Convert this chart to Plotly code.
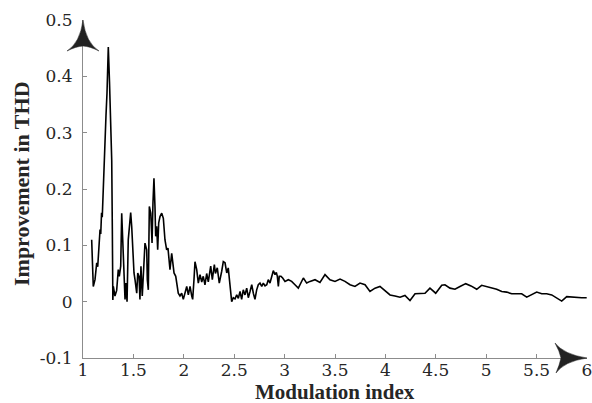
import plotly.graph_objects as go

# Modulation index samples and THD improvement
modulation_index = [
    1.086, 1.102, 1.119, 1.136, 1.146, 1.159, 1.169, 1.176, 1.184, 1.191,
    1.201, 1.211, 1.218, 1.228, 1.238, 1.251, 1.263, 1.273, 1.285, 1.291,
    1.296, 1.301, 1.317, 1.334, 1.350, 1.360, 1.374, 1.384, 1.394, 1.407,
    1.417, 1.427, 1.437, 1.449, 1.459, 1.473, 1.483, 1.493, 1.506, 1.516,
    1.533, 1.543, 1.556, 1.565, 1.575, 1.588, 1.605, 1.615, 1.632, 1.638,
    1.648, 1.658, 1.672, 1.685, 1.694, 1.704, 1.714, 1.721, 1.731, 1.741,
    1.751, 1.764, 1.781, 1.797, 1.813, 1.830, 1.843, 1.853, 1.863, 1.880,
    1.893, 1.903, 1.920, 1.936, 1.945, 1.962, 1.979, 1.995, 2.012, 2.029,
    2.045, 2.062, 2.079, 2.088, 2.101, 2.111, 2.128, 2.144, 2.161, 2.178,
    2.193, 2.210, 2.227, 2.243, 2.267, 2.283, 2.303, 2.314, 2.332, 2.352,
    2.376, 2.392, 2.409, 2.426, 2.441, 2.458, 2.475, 2.491, 2.508, 2.525,
    2.541, 2.558, 2.574, 2.590, 2.607, 2.624, 2.640, 2.657, 2.674, 2.690,
    2.706, 2.723, 2.739, 2.756, 2.773, 2.789, 2.806, 2.823, 2.838, 2.855,
    2.872, 2.888, 2.905, 2.918, 2.928, 2.938, 2.947, 2.964, 2.981, 3.004,
    3.037, 3.070, 3.103, 3.136, 3.186, 3.219, 3.252, 3.302, 3.351, 3.401,
    3.450, 3.500, 3.550, 3.599, 3.649, 3.698, 3.748, 3.798, 3.847, 3.897,
    3.946, 3.996, 4.046, 4.095, 4.145, 4.194, 4.244, 4.294, 4.343, 4.393,
    4.442, 4.499, 4.559, 4.591, 4.641, 4.690, 4.740, 4.797, 4.849, 4.906,
    4.955, 5.005, 5.055, 5.104, 5.154, 5.203, 5.253, 5.303, 5.352, 5.402,
    5.451, 5.501, 5.551, 5.600, 5.650, 5.699, 5.749, 5.799, 5.848, 5.898,
    5.947, 5.997,
]
thd_improvement = [
    0.110, 0.027, 0.039, 0.069, 0.062, 0.100, 0.128, 0.120, 0.158, 0.150,
    0.210, 0.230, 0.270, 0.330, 0.370, 0.452, 0.390, 0.330, 0.250, 0.130,
    0.003, 0.027, 0.010, 0.020, 0.057, 0.045, 0.063, 0.157, 0.110, 0.027,
    0.004, 0.033, 0.000, 0.110, 0.134, 0.158, 0.134, 0.090, 0.051, 0.039,
    0.015, 0.051, 0.045, 0.004, 0.063, 0.010, 0.063, 0.104, 0.092, 0.039,
    0.021, 0.169, 0.157, 0.104, 0.175, 0.219, 0.169, 0.116, 0.134, 0.092,
    0.140, 0.151, 0.157, 0.148, 0.110, 0.092, 0.095, 0.069, 0.057, 0.086,
    0.070, 0.051, 0.045, 0.027, 0.015, 0.010, 0.015, 0.004, 0.015, 0.027,
    0.012, 0.027, 0.010, 0.004, 0.039, 0.071, 0.057, 0.033, 0.048, 0.035,
    0.045, 0.030, 0.050, 0.035, 0.063, 0.039, 0.066, 0.050, 0.060, 0.033,
    0.054, 0.071, 0.069, 0.051, 0.060, 0.033, 0.000, 0.007, 0.005, 0.012,
    0.006, 0.018, 0.004, 0.021, 0.012, 0.024, 0.007, 0.018, 0.030, 0.015,
    0.004, 0.021, 0.030, 0.033, 0.027, 0.033, 0.028, 0.030, 0.039, 0.033,
    0.045, 0.055, 0.048, 0.052, 0.045, 0.027, 0.045, 0.045, 0.042, 0.036,
    0.039, 0.036, 0.030, 0.024, 0.042, 0.033, 0.036, 0.039, 0.034, 0.048,
    0.039, 0.036, 0.040, 0.036, 0.030, 0.027, 0.033, 0.030, 0.018, 0.024,
    0.027, 0.020, 0.012, 0.010, 0.008, 0.011, 0.002, 0.014, 0.015, 0.015,
    0.024, 0.015, 0.029, 0.030, 0.024, 0.022, 0.027, 0.032, 0.028, 0.022,
    0.029, 0.027, 0.024, 0.022, 0.018, 0.017, 0.014, 0.014, 0.014, 0.008,
    0.012, 0.017, 0.014, 0.014, 0.012, 0.007, 0.001, 0.009, 0.008, 0.008,
    0.007, 0.007,
]

x_tick_values = [1, 1.5, 2, 2.5, 3, 3.5, 4, 4.5, 5, 5.5, 6]
x_tick_labels = ["1", "1.5", "2", "2.5", "3", "3.5", "4", "4.5", "5", "5.5", "6"]
y_tick_values = [-0.1, 0, 0.1, 0.2, 0.3, 0.4, 0.5]
y_tick_labels = ["-0.1", "0", "0.1", "0.2", "0.3", "0.4", "0.5"]

x_title = "Modulation index"
y_title = "Improvement in THD"

W, H = 592, 403
ML, MR, MT, MB = 83, 5, 20, 45
PW, PH = W - ML - MR, H - MT - MB

AXIS_GREY = "#8c8c8c"
TEXT_DARK = "#262626"
FONT = "DejaVu Serif"
TITLE_FONT = "Liberation Serif"


def to_paper(xp, yp):
    """Convert page pixel position into paper coordinates."""
    return (xp - ML) / PW, (H - MB - yp) / PH


def arrow_path(points):
    """Build an SVG path from a list of (command, x, y) tuples in pixels."""
    parts = []
    for cmd, *pts in points:
        coords = []
        for i in range(0, len(pts), 2):
            px, py = to_paper(pts[i], pts[i + 1])
            coords.append(f"{px:.5f},{py:.5f}")
        parts.append(cmd + " " + " ".join(coords))
    return " ".join(parts) + " Z"


# Arrowhead at the top of the vertical axis
up_arrow = arrow_path([
    ("M", 83, 20),
    ("Q", 80, 43, 67, 51),
    ("Q", 76, 46.5, 83, 46),
    ("Q", 90, 46.5, 99, 51),
    ("Q", 86, 43, 83, 20),
])
# Arrowhead at the right end of the horizontal axis
right_arrow = arrow_path([
    ("M", 587, 358),
    ("Q", 564, 354.5, 555, 343),
    ("Q", 559.5, 351, 561, 358),
    ("Q", 559.5, 365, 556, 373),
    ("Q", 564, 361.5, 587, 358),
])

fig = go.Figure()
fig.add_trace(go.Scatter(
    x=modulation_index,
    y=thd_improvement,
    mode="lines",
    line=dict(color="black", width=1.6),
    showlegend=False,
))

for path in (up_arrow, right_arrow):
    fig.add_shape(type="path", path=path, xref="paper", yref="paper",
                  fillcolor="#222222", line=dict(color="#222222", width=0.5),
                  layer="above")

axis_common = dict(
    showgrid=False,
    zeroline=False,
    showline=True,
    linecolor=AXIS_GREY,
    linewidth=1,
    ticks="inside",
    ticklen=4,
    tickcolor=AXIS_GREY,
    tickwidth=1,
    tickfont=dict(family=FONT, size=17, color=TEXT_DARK),
    ticklabeloverflow="allow",
    mirror=False,
)

fig.update_xaxes(
    range=[1, 6],
    tickmode="array",
    tickvals=x_tick_values,
    ticktext=x_tick_labels,
    ticklabelstandoff=-3,
    **axis_common,
)
fig.update_yaxes(
    range=[-0.1, 0.5],
    tickmode="array",
    tickvals=y_tick_values,
    ticktext=y_tick_labels,
    ticklabelstandoff=6,
    **axis_common,
)

# Axis titles
title_font = dict(family=TITLE_FONT, size=21, color=TEXT_DARK)
fig.add_annotation(text=f"<b>{x_title}</b>", xref="paper", yref="paper",
                   x=(335 - ML) / PW, y=(H - MB - 392) / PH,
                   xanchor="center", yanchor="middle", showarrow=False,
                   font=title_font)
fig.add_annotation(text=f"<b>{y_title}</b>", xref="paper", yref="paper",
                   x=(21 - ML) / PW, y=(H - MB - 184) / PH,
                   xanchor="center", yanchor="middle", showarrow=False,
                   textangle=-90, font=dict(title_font, size=22))

fig.update_layout(
    width=W,
    height=H,
    margin=dict(l=ML, r=MR, t=MT, b=MB, autoexpand=False),
    paper_bgcolor="white",
    plot_bgcolor="white",
    font=dict(family=TITLE_FONT, color=TEXT_DARK),
)

fig.write_html("out.html")
